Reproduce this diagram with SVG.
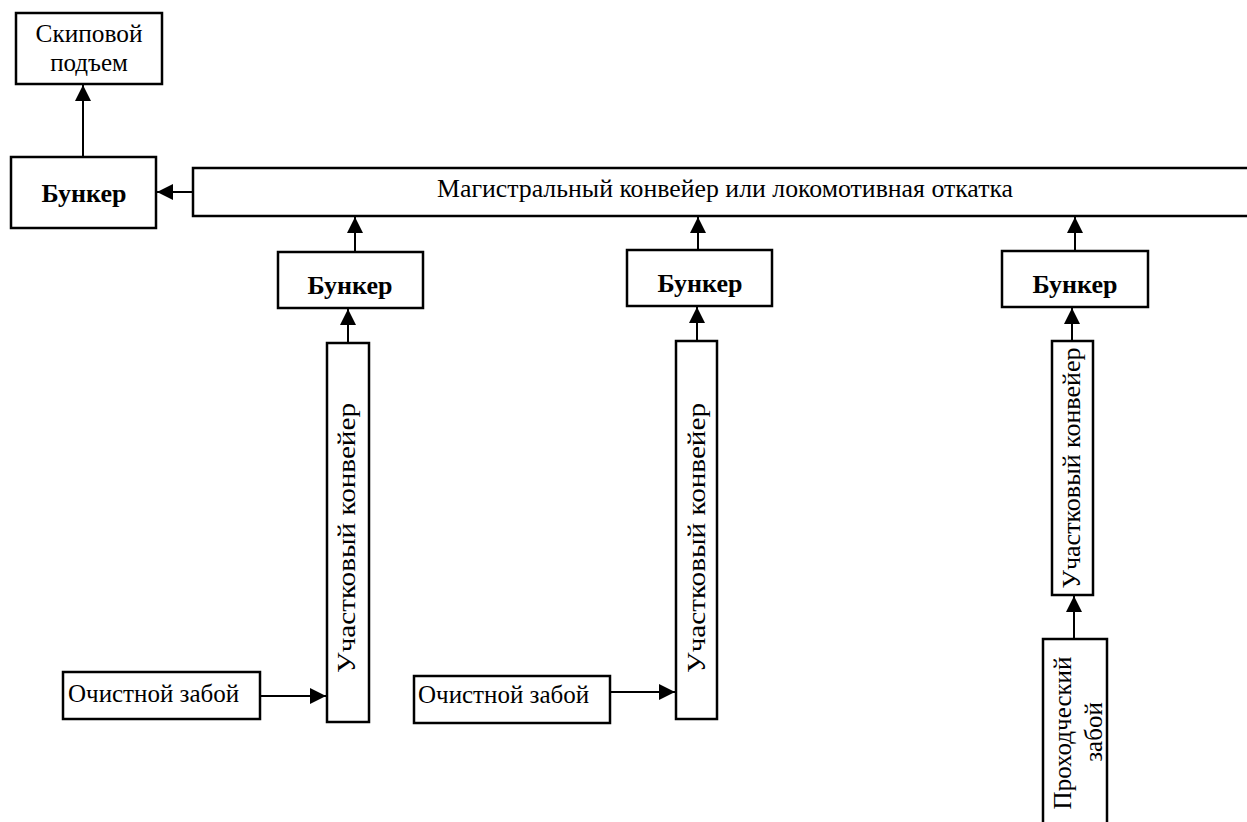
<svg xmlns="http://www.w3.org/2000/svg" width="1247" height="822" viewBox="0 0 1247 822">
<style>
.box{fill:#fff;stroke:#000;stroke-width:2.5}
.t{font-family:"Liberation Serif","Times New Roman",serif;font-size:25px;fill:#000}
.b{font-weight:bold;font-size:26px}
.c{text-anchor:middle}
.ln{stroke:#000;stroke-width:2;fill:none;marker-end:url(#ah)}
</style>
<defs>
<marker id="ah" markerUnits="userSpaceOnUse" markerWidth="16" markerHeight="16" viewBox="0 0 14 14" refX="14" refY="7" orient="auto">
<path d="M0,0 L14,7 L0,14 Z" fill="#000"/>
</marker>
</defs>
<rect width="1247" height="822" fill="#fff"/>
<g id="connectors">
<line class="ln" x1="83" y1="157" x2="83" y2="85"/>
<line class="ln" x1="193" y1="192" x2="157" y2="192"/>
<line class="ln" x1="355" y1="252" x2="355" y2="217"/>
<line class="ln" x1="698" y1="250" x2="698" y2="217"/>
<line class="ln" x1="1075" y1="251" x2="1075" y2="217"/>
<line class="ln" x1="348" y1="343" x2="348" y2="309"/>
<line class="ln" x1="697" y1="341" x2="697" y2="307"/>
<line class="ln" x1="1072" y1="341" x2="1072" y2="308"/>
<line class="ln" x1="1074" y1="639" x2="1074" y2="596"/>
<line class="ln" x1="260" y1="696" x2="326" y2="696"/>
<line class="ln" x1="610" y1="692" x2="675" y2="692"/>
</g>
<g id="skip">
<rect class="box" x="16" y="13" width="146" height="71"/>
<text class="t c" x="89" y="42" textLength="107" lengthAdjust="spacingAndGlyphs">Скиповой</text>
<text class="t c" x="89" y="71">подъем</text>
</g>
<g id="bunker0">
<rect class="box" x="11" y="157" width="145" height="71"/>
<text class="t b c" x="84" y="202">Бункер</text>
</g>
<g id="main">
<rect class="box" x="193" y="168" width="1100" height="48"/>
<text class="t c" x="725" y="197" textLength="576" lengthAdjust="spacingAndGlyphs">Магистральный конвейер или локомотивная откатка</text>
</g>
<g id="bunker1">
<rect class="box" x="278" y="252" width="145" height="56"/>
<text class="t b c" x="350" y="294">Бункер</text>
</g>
<g id="bunker2">
<rect class="box" x="627" y="250" width="145" height="56"/>
<text class="t b c" x="700" y="292">Бункер</text>
</g>
<g id="bunker3">
<rect class="box" x="1002" y="251" width="146" height="56"/>
<text class="t b c" x="1075" y="293">Бункер</text>
</g>
<g id="conv1">
<rect class="box" x="327" y="343" width="42" height="379"/>
<text class="t c" transform="translate(355 538) rotate(-90)" textLength="270" lengthAdjust="spacingAndGlyphs">Участковый конвейер</text>
</g>
<g id="conv2">
<rect class="box" x="676" y="341" width="41" height="378"/>
<text class="t c" transform="translate(705 538) rotate(-90)" textLength="270" lengthAdjust="spacingAndGlyphs">Участковый конвейер</text>
</g>
<g id="conv3">
<rect class="box" x="1052" y="341" width="41" height="254"/>
<text class="t c" transform="translate(1080 468) rotate(-90)" textLength="241" lengthAdjust="spacingAndGlyphs">Участковый конвейер</text>
</g>
<g id="face1">
<rect class="box" x="63" y="672" width="197" height="47"/>
<text class="t" x="68" y="702">Очистной забой</text>
</g>
<g id="face2">
<rect class="box" x="414" y="676" width="196" height="47"/>
<text class="t" x="418" y="703">Очистной забой</text>
</g>
<g id="drift">
<rect class="box" x="1043" y="639" width="64" height="200"/>
<text class="t c" transform="translate(1071 733) rotate(-90)">Проходческий</text>
<text class="t c" transform="translate(1102 732) rotate(-90)">забой</text>
</g>
</svg>
